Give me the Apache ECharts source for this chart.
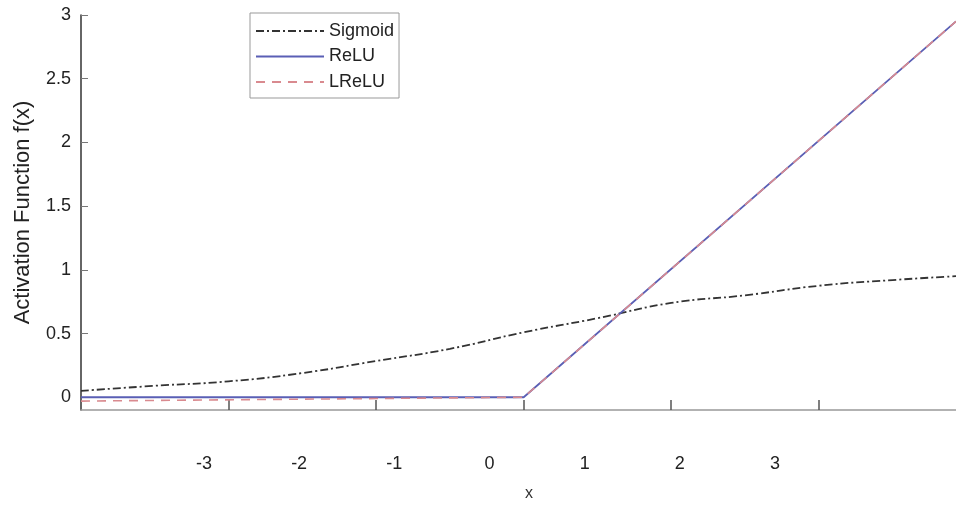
<!DOCTYPE html>
<html>
<head>
<meta charset="utf-8">
<script src="https://cdn.jsdelivr.net/npm/echarts@6/dist/echarts.min.js"></script>
<style>html,body{margin:0;padding:0;background:#fff}#c{width:956px;height:507px}</style>
</head>
<body>
<div id="c"></div>
<script>
// Data
var sigmoidX = [-3, -2.5, -2, -1.5, -1, -0.5, 0, 0.5, 1, 1.5, 2, 2.5, 2.93];
var sigmoidY = [0.05, 0.09, 0.125, 0.19, 0.285, 0.38, 0.51, 0.62, 0.74, 0.80, 0.875, 0.92, 0.95];
var reluX = [-3, 0, 2.93];
var reluY = [0, 0, 2.95];
var lreluX = [-3, 0, 2.93];
var lreluY = [-0.03, 0, 2.95];
var xTickValues = [-2, -1, 0, 1, 2];
var xLabelValues = [-3, -2, -1, 0, 1, 2, 3];
var yTickValues = [0, 0.5, 1, 1.5, 2, 2.5, 3];

function pairs(xs, ys) { return xs.map(function (x, i) { return [x, ys[i]]; }); }

var font = 'Liberation Sans, Arial, sans-serif';
var chart = echarts.init(document.getElementById('c'), null, { renderer: 'canvas' });
chart.setOption({
  animation: false,
  backgroundColor: '#fff',
  grid: { left: 81, right: 0, top: 15, bottom: 94, containLabel: false },
  legend: {
    orient: 'vertical',
    left: 250, top: 13,
    padding: [9, 5, 7, 5],
    itemWidth: 68, itemHeight: 18, itemGap: 7.5,
    backgroundColor: '#fff',
    borderColor: '#999', borderWidth: 1,
    itemStyle: { opacity: 0 },
    textStyle: { fontFamily: font, fontSize: 18, color: '#222' },
    data: ['Sigmoid', 'ReLU', 'LReLU']
  },
  xAxis: [{
    type: 'value', min: -3, max: 2.93,
    position: 'bottom',
    name: 'x', nameLocation: 'middle', nameGap: 76,
    nameTextStyle: { fontFamily: font, fontSize: 16, color: '#333', padding: [0, 0, 0, 21] },
    axisLine: { show: true, onZero: false, lineStyle: { color: '#999', width: 1.5 } },
    axisTick: { show: true, inside: true, length: 10, customValues: xTickValues, lineStyle: { color: '#555', width: 1.5 } },
    axisLabel: { show: false },
    splitLine: { show: false }
  }, {
    type: 'value', min: -4.292, max: 4.902,
    position: 'bottom',
    axisLine: { show: false },
    axisTick: { show: false },
    axisLabel: { show: true, margin: 45, customValues: xLabelValues, fontFamily: font, fontSize: 18, color: '#222' },
    splitLine: { show: false }
  }],
  yAxis: {
    type: 'value', min: -0.1, max: 3,
    name: 'Activation Function f(x)', nameLocation: 'middle', nameGap: 47,
    nameTextStyle: { fontFamily: font, fontSize: 22, color: '#222' },
    axisLine: { show: true, onZero: false, lineStyle: { color: '#333', width: 1.5 } },
    axisTick: { show: true, inside: true, length: 7, customValues: yTickValues, lineStyle: { color: '#777', width: 1 } },
    axisLabel: { show: true, margin: 10, customValues: yTickValues, fontFamily: font, fontSize: 18, color: '#222' },
    splitLine: { show: false }
  },
  series: [{
    name: 'Sigmoid', type: 'line', xAxisIndex: 0, smooth: true, symbol: 'none',
    data: pairs(sigmoidX, sigmoidY),
    lineStyle: { color: '#333', width: 1.8, type: [8, 3, 2, 3] },
    itemStyle: { color: '#333' }
  }, {
    name: 'ReLU', type: 'line', xAxisIndex: 0, symbol: 'none',
    data: pairs(reluX, reluY),
    lineStyle: { color: '#5a5fb5', width: 1.8 },
    itemStyle: { color: '#5a5fb5' }
  }, {
    name: 'LReLU', type: 'line', xAxisIndex: 0, symbol: 'none',
    data: pairs(lreluX, lreluY),
    lineStyle: { color: '#d98a8f', width: 1.6, type: [9, 7] },
    itemStyle: { color: '#d98a8f' }
  }]
});
</script>
</body>
</html>
